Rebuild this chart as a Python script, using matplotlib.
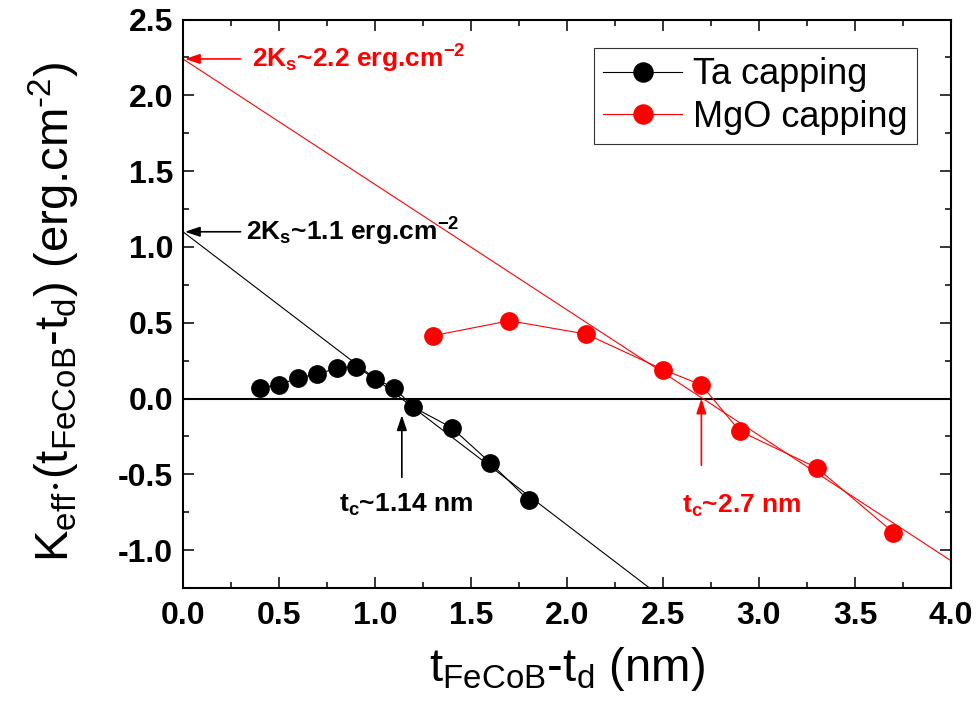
import matplotlib
matplotlib.use("Agg")
import matplotlib.pyplot as plt
from matplotlib import font_manager
from matplotlib.ticker import MultipleLocator

plt.rcParams["font.family"] = ["Liberation Sans", "DejaVu Sans"]
plt.rcParams["mathtext.fontset"] = "custom"
plt.rcParams["mathtext.rm"] = "Liberation Sans"
plt.rcParams["mathtext.it"] = "Liberation Sans"
plt.rcParams["mathtext.bf"] = "Liberation Sans:bold"

ta_x = [0.4, 0.5, 0.6, 0.7, 0.8, 0.9, 1.0, 1.1, 1.2, 1.4, 1.6, 1.8]
ta_y = [0.070, 0.090, 0.136, 0.162, 0.199, 0.211, 0.130, 0.070, -0.057, -0.193, -0.423, -0.671]
mgo_x = [1.3, 1.7, 2.1, 2.5, 2.7, 2.9, 3.3, 3.7]
mgo_y = [0.414, 0.513, 0.425, 0.191, 0.090, -0.215, -0.456, -0.884]

# linear fits, end points
ta_fit_x = [0.0, 2.43]
ta_fit_y = [1.10, -1.25]
mgo_fit_x = [0.0, 4.0]
mgo_fit_y = [2.24, -1.07]

ta_2ks = 1.10
mgo_2ks = 2.24
ta_tc = 1.14
mgo_tc = 2.70

RED = "#ff0000"

# axis titles in the original look like a narrow Arial
try:
    font_manager.findfont("Liberation Sans Narrow", fallback_to_default=False)
    label_font, label_size = "Liberation Sans Narrow", 40
except ValueError:
    label_font, label_size = "Liberation Sans", 34

fig = plt.figure(figsize=(9.8, 7.13), dpi=100)
ax = fig.add_axes([0.1867, 0.1753, 0.7837, 0.7973])

ax.axhline(0.0, color="black", lw=1.5, zorder=1)
ax.plot(ta_fit_x, ta_fit_y, color="black", lw=0.8, zorder=2)
ax.plot(mgo_fit_x, mgo_fit_y, color=RED, lw=0.8, zorder=2)
ax.plot(ta_x, ta_y, color="black", lw=0.8, marker="o", ms=12.5,
        mfc="black", mec="black", label="Ta capping", zorder=3)
ax.plot(mgo_x, mgo_y, color=RED, lw=0.8, marker="o", ms=12.5,
        mfc=RED, mec=RED, label="MgO capping", zorder=3)

ax.set_xlim(0.0, 4.0)
ax.set_ylim(-1.25, 2.5)
ax.xaxis.set_major_locator(MultipleLocator(0.5))
ax.xaxis.set_minor_locator(MultipleLocator(0.25))
ax.yaxis.set_major_locator(MultipleLocator(0.5))
ax.yaxis.set_minor_locator(MultipleLocator(0.25))
ax.xaxis.set_major_formatter(lambda v, p: f"{v:.1f}")
ax.yaxis.set_major_formatter(lambda v, p: f"{v:.1f}")

ax.tick_params(which="both", direction="in", top=True, right=True, width=1.1)
ax.tick_params(which="major", length=8)
ax.tick_params(which="minor", length=4.3)
ax.tick_params(axis="x", which="major", pad=9, labelsize=23)
ax.tick_params(axis="y", which="major", pad=7, labelsize=23)
for lab in ax.get_xticklabels() + ax.get_yticklabels():
    lab.set_fontweight("bold")
for sp in ax.spines.values():
    sp.set_linewidth(1.5)

ax.set_xlabel(r"t$_{\rm FeCoB}$-t$_{\rm d}$ (nm)", fontsize=label_size,
              family=[label_font, "DejaVu Sans"])
ax.set_ylabel(r"K$_{\rm eff}$$\cdot$(t$_{\rm FeCoB}$-t$_{\rm d}$) (erg.cm$^{\text{-2}}$)",
              fontsize=label_size, family=[label_font, "DejaVu Sans"])
ax.xaxis.set_label_coords(0.5, -0.10)
ax.yaxis.set_label_coords(-0.132, 0.485)

arrow = dict(arrowstyle="-|>,head_length=0.9,head_width=0.3", lw=1.2, shrinkA=0, shrinkB=0)
note = dict(fontsize=19, fontweight="bold")

ax.annotate("", xy=(0.01, mgo_2ks), xytext=(0.30, mgo_2ks),
            arrowprops=dict(arrow, color=RED))
ax.text(0.36, mgo_2ks, r"2K$_{\mathbf{s}}$~2.2 erg.cm$^{\mathbf{-2}}$", color=RED,
        va="center", ha="left", **note)
ax.annotate("", xy=(0.01, ta_2ks), xytext=(0.30, ta_2ks),
            arrowprops=dict(arrow, color="black"))
ax.text(0.33, ta_2ks, r"2K$_{\mathbf{s}}$~1.1 erg.cm$^{\mathbf{-2}}$", color="black",
        va="center", ha="left", **note)

ax.annotate("", xy=(ta_tc, -0.11), xytext=(ta_tc, -0.52),
            arrowprops=dict(arrow, color="black"))
ax.text(ta_tc + 0.02, -0.70, r"t$_{\mathbf{c}}$~1.14 nm", color="black",
        ha="center", va="center", **note)
ax.annotate("", xy=(mgo_tc, 0.0), xytext=(mgo_tc, -0.44),
            arrowprops=dict(arrow, color=RED))
ax.text(mgo_tc + 0.21, -0.71, r"t$_{\mathbf{c}}$~2.7 nm", color=RED,
        ha="center", va="center", **note)

leg = ax.legend(loc="upper right", bbox_to_anchor=(0.956, 0.95), borderaxespad=0,
                fontsize=26, frameon=True, fancybox=False, edgecolor="black",
                handlelength=2.2, handletextpad=0.3, labelspacing=0.2,
                borderpad=0.26, markerscale=1.1)
leg.get_frame().set_linewidth(0.8)

fig.savefig("out.png", dpi=100)
